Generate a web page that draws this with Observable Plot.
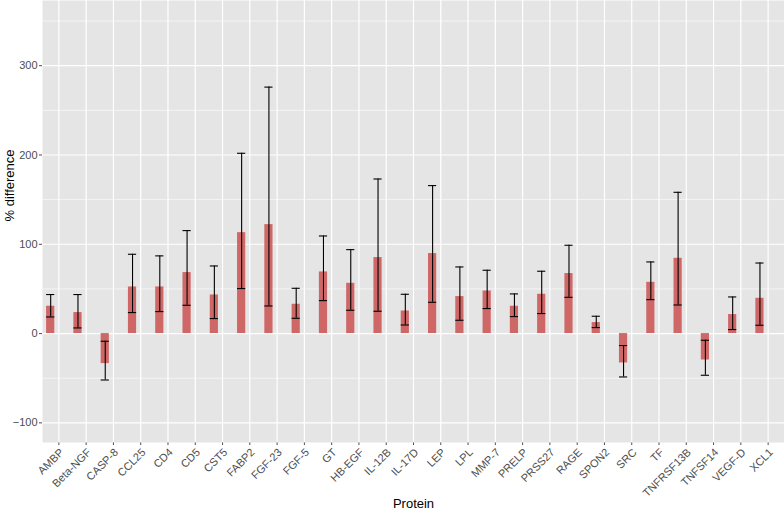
<!DOCTYPE html>
<html>
<head>
<meta charset="utf-8">
<script src="https://cdn.jsdelivr.net/npm/d3@7"></script>
<script src="https://cdn.jsdelivr.net/npm/@observablehq/plot@0.6"></script>
<style>
  html, body { margin: 0; padding: 0; background: #fff; }
  #chart svg { display: block; font-family: "Liberation Sans", Arial, Helvetica, sans-serif; font-size: 11px; color: #4D4D4D; }
</style>
</head>
<body>
<div id="chart"></div>
<script>
const proteins = ["AMBP","Beta-NGF","CASP-8","CCL25","CD4","CD5","CST5","FABP2","FGF-23","FGF-5","GT","HB-EGF","IL-12B","IL-17D","LEP","LPL","MMP-7","PRELP","PRSS27","RAGE","SPON2","SRC","TF","TNFRSF13B","TNFSF14","VEGF-D","XCL1"];
const pctDiff = [30.6, 23.5, -33.6, 52.2, 52.2, 68.3, 43.2, 113, 122, 32.8, 69, 56.3, 85.1, 25.3, 89.6, 41.4, 47.7, 30.6, 44, 67.2, 12.3, -32.9, 57.4, 84.3, -29.6, 21.3, 39.5];
const lowerCI = [18.6, 6.3, -52, 23.5, 24.6, 31.7, 16.8, 50.4, 30.9, 17.1, 36.9, 26.1, 25.0, 9.6, 35, 14.9, 28, 19.0, 22.4, 40.6, 6.7, -48.6, 38, 32, -46.7, 4.5, 9.3];
const upperCI = [43.7, 43.7, -8.6, 88.8, 87, 115.3, 75.7, 201.9, 276, 50.7, 109.3, 94, 173.1, 44, 165.7, 74.6, 70.9, 44.4, 69.8, 98.9, 19.4, -13.4, 80.2, 158.2, -7.5, 41, 79];
const yTicks = [-100, 0, 100, 200, 300];
const yMinor = [-50, 50, 150, 250, 350];
const xTitle = "Protein";
const yTitle = "% difference";

const data = proteins.map((p, i) => ({protein: p, i: i + 1, pct: pctDiff[i], lo: lowerCI[i], hi: upperCI[i]}));
const idx = data.map(d => d.i);
const barColor = "#CD5C5C";

const chart = Plot.plot({
  width: 784,
  height: 510,
  marginLeft: 42,
  marginRight: 0,
  marginTop: 0,
  marginBottom: 68,
  x: {type: "linear", domain: [0.4, 27.6], ticks: idx, tickFormat: () => "", tickSize: 3, tickPadding: 0, label: null},
  y: {domain: [-122, 373], ticks: yTicks, tickSize: 3, tickPadding: 2, label: null},
  marks: [
    Plot.frame({fill: "#E5E5E5", stroke: "none"}),
    Plot.ruleY(yMinor, {stroke: "#fff", strokeWidth: 0.6}),
    Plot.ruleY(yTicks, {stroke: "#fff", strokeWidth: 1.2}),
    Plot.ruleX(idx, {stroke: "#fff", strokeWidth: 1.2}),
    Plot.rect(data, {x1: d => d.i - 0.45, x2: d => d.i - 0.15, y1: 0, y2: "pct", fill: barColor, fillOpacity: 0.92}),
    Plot.ruleX(data, {x: d => d.i - 0.3, y1: "lo", y2: "hi", stroke: "#000", strokeWidth: 1.1}),
    Plot.ruleY(data, {y: "hi", x1: d => d.i - 0.45, x2: d => d.i - 0.15, stroke: "#000", strokeWidth: 1.1}),
    Plot.ruleY(data, {y: "lo", x1: d => d.i - 0.45, x2: d => d.i - 0.15, stroke: "#000", strokeWidth: 1.1}),
    Plot.text(data, {x: "i", text: "protein", frameAnchor: "bottom", dy: 5, rotate: -45, textAnchor: "end", lineAnchor: "top", fontSize: 11, ariaLabel: "xlabels"}),
    Plot.text([xTitle], {frameAnchor: "bottom", dy: 61, fontSize: 13, fill: "#000", lineAnchor: "middle"}),
    Plot.text([yTitle], {frameAnchor: "left", dx: -33, rotate: -90, fontSize: 13, fill: "#000", lineAnchor: "middle"})
  ]
});

// Put each rotated label inside its own translated group so the rotation is applied alone.
d3.select(chart).selectAll("g[aria-label='xlabels'] text").each(function() {
  const t = this.getAttribute("transform") || "";
  const m = t.match(/translate\(([^,]+),([^)]+)\)/);
  if (!m) return;
  const g = document.createElementNS("http://www.w3.org/2000/svg", "g");
  g.setAttribute("transform", `translate(${m[1]},${m[2]})`);
  this.parentNode.insertBefore(g, this);
  g.appendChild(this);
  this.setAttribute("transform", "rotate(-45)");
});

document.getElementById("chart").appendChild(chart);
</script>
</body>
</html>
